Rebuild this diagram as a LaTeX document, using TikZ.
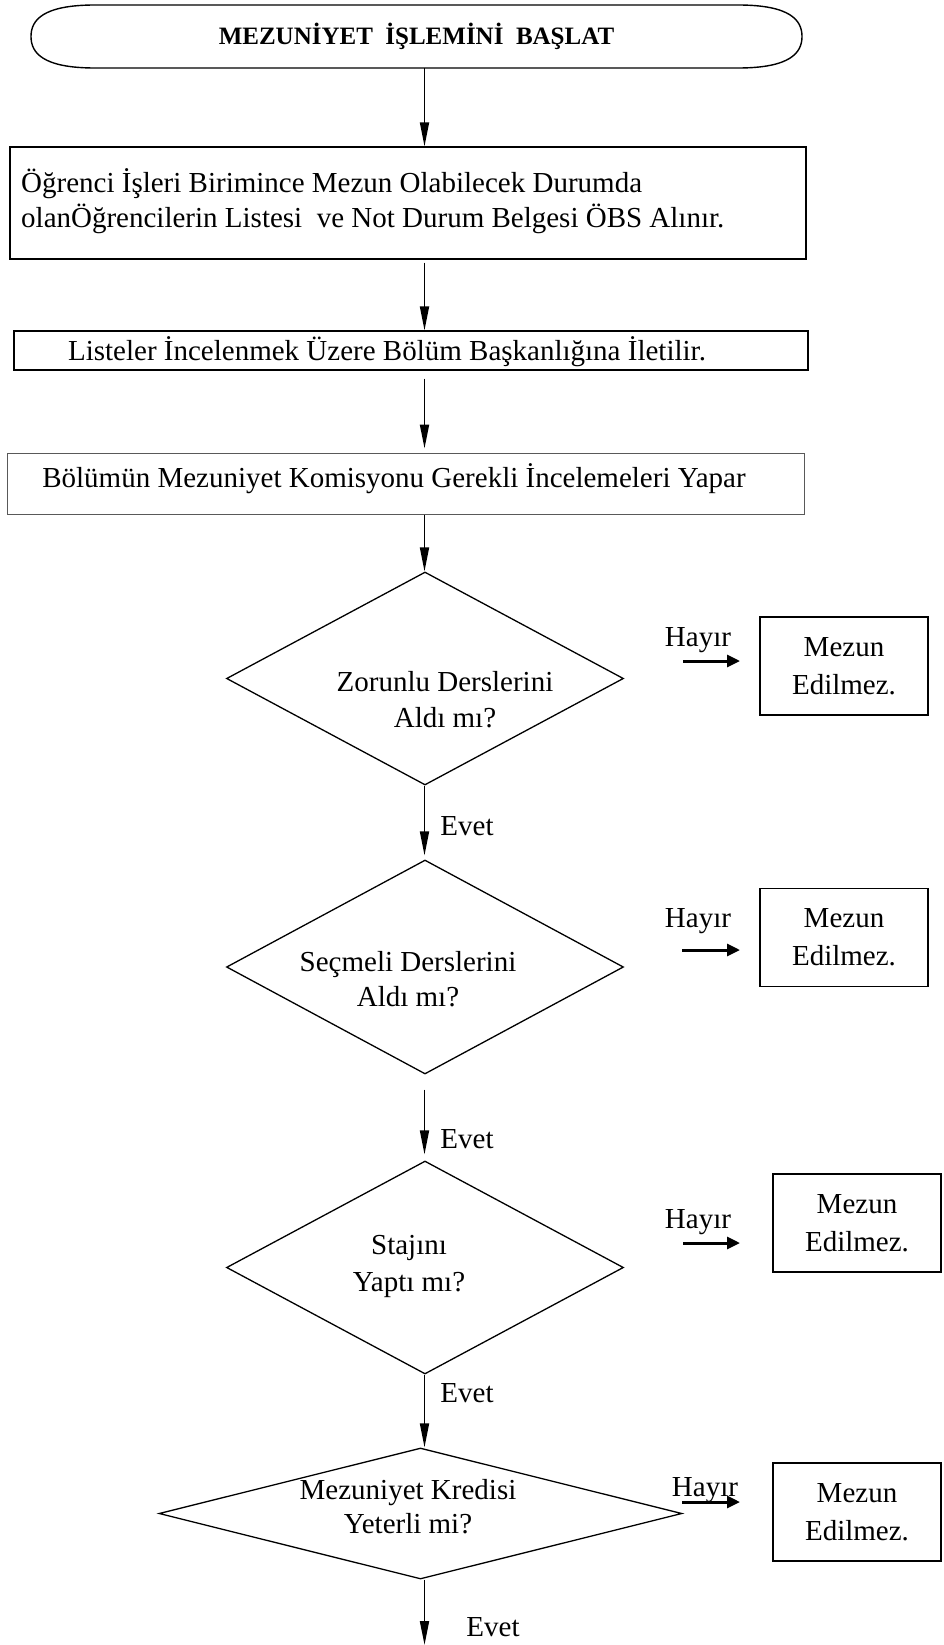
\documentclass[tikz,border=0pt]{standalone}
\usepackage{fontspec}
\setmainfont{Liberation Serif}
\usetikzlibrary{shapes.geometric,arrows.meta}
\begin{document}
\begin{tikzpicture}[x=1pt,y=-1pt,
  box/.style={draw, line width=1.2pt, inner sep=0pt},
  mbox/.style={draw, line width=1.4pt, inner sep=0pt, minimum width=168pt, minimum height=98pt,
    align=center, font=\fontsize{29}{38}\selectfont},
  dia/.style={draw, diamond, line width=1.3pt, inner sep=0pt},
  txt/.style={inner sep=0pt, font=\fontsize{29}{35}\selectfont, align=center},
  arr/.style={line width=1.8pt, -{Triangle[length=24pt,width=9pt]}},
  harr/.style={line width=3pt, -{Triangle[length=13pt,width=12pt]}},
]
\useasboundingbox (0,0) rectangle (944,1645);
% start terminator
\draw[line width=1.4pt] (95,5) -- (738,5) .. controls (790,5) and (802,20) .. (802,36.5)
  .. controls (802,53) and (790,68) .. (738,68) -- (95,68)
  .. controls (43,68) and (31,53) .. (31,36.5) .. controls (31,20) and (43,5) .. (95,5) -- cycle;
\node[inner sep=0pt, minimum width=771pt, minimum height=63pt,
  font=\fontsize{25}{30}\selectfont\bfseries] (start) at (416.5,36.5)
  {MEZUNİYET\ \ İŞLEMİNİ\ \ BAŞLAT};
\coordinate (ax) at (424.5,0);
% boxes
\node[box, minimum width=796pt, minimum height=112pt] (b1) at (408,203) {};
\node[txt, anchor=west, align=left, font=\fontsize{29}{34.6}\selectfont] (b1t) at (21,201)
  {Öğrenci İşleri Birimince Mezun Olabilecek Durumda\\olanÖğrencilerin Listesi\ \ ve Not Durum Belgesi ÖBS Alınır.};
\node[box, minimum width=794pt, minimum height=39pt] (b2) at (411,350.5) {};
\node[txt] (b2t) at (387,352) {Listeler İncelenmek Üzere Bölüm Başkanlığına İletilir.};
\node[box, draw=black!65, line width=1pt, minimum width=797pt, minimum height=61pt] (b3) at (405.5,483.5) {};
\node[txt] (b3t) at (394,479) {Bölümün Mezuniyet Komisyonu Gerekli İncelemeleri Yapar};
% diamonds
\node[dia, minimum width=397pt, minimum height=213pt] (d1) at (425,678.5) {};
\node[txt, font=\fontsize{29}{36}\selectfont] (d1t) at (445,700) {Zorunlu Derslerini\\Aldı mı?};
\node[dia, minimum width=397pt, minimum height=214pt] (d2) at (425,967) {};
\node[txt, font=\fontsize{29}{35}\selectfont] (d2t) at (408,979) {Seçmeli Derslerini\\Aldı mı?};
\node[dia, minimum width=397pt, minimum height=213pt] (d3) at (425,1267.5) {};
\node[txt, font=\fontsize{29}{37}\selectfont] (d3t) at (409,1266) {Stajını\\Yaptı mı?};
\node[dia, minimum width=523pt, minimum height=131pt] (d4) at (420.5,1513.5) {};
\node[txt, font=\fontsize{29}{34}\selectfont] (d4t) at (408,1507) {Mezuniyet Kredisi\\Yeterli mi?};
% Mezun Edilmez boxes
\node[mbox] (m1) at (844,666) {Mezun\\Edilmez.};
\node[mbox] (m2) at (844,937.5) {Mezun\\Edilmez.};
\node[mbox] (m3) at (857,1223) {Mezun\\Edilmez.};
\node[mbox] (m4) at (857,1512) {Mezun\\Edilmez.};
% main arrows
\draw[arr] (start.south -| ax) -- (b1.north -| ax);
\draw[arr, shorten <=3pt] (b1.south -| ax) -- (b2.north -| ax);
\draw[arr, shorten <=8pt, shorten >=4pt] (b2.south -| ax) -- (b3.north -| ax);
\draw[arr] (b3.south -| ax) -- (d1.north -| ax);
\draw[arr, shorten >=4pt] (d1.south -| ax) -- (d2.north -| ax);
\draw[arr, shorten <=15pt, shorten >=6pt] (d2.south -| ax) -- (d3.north -| ax);
\draw[arr] (d3.south -| ax) -- (d4.north -| ax);
\coordinate (endpt) at (424.5,1645);
\draw[arr] (d4.south -| ax) -- (endpt);
% Evet labels
\node[txt] (e1) at (467,826) {Evet};
\node[txt] (e2) at (467,1139) {Evet};
\node[txt] (e3) at (467,1393) {Evet};
\node[txt] (e4) at (493,1627) {Evet};
% Hayir arrows
\coordinate (h1s) at (683,661); \coordinate (h1e) at (740,661);
\coordinate (h2s) at (682,950); \coordinate (h2e) at (740,950);
\coordinate (h3s) at (683,1243); \coordinate (h3e) at (740,1243);
\coordinate (h4s) at (682,1502); \coordinate (h4e) at (740,1502);
\draw[harr] (h1s) -- (h1e);
\draw[harr] (h2s) -- (h2e);
\draw[harr] (h3s) -- (h3e);
\draw[harr] (h4s) -- (h4e);
\node[txt] (hl1) at (698,640) {Hayır};
\node[txt] (hl2) at (698,921) {Hayır};
\node[txt] (hl3) at (698,1222) {Hayır};
\node[txt] (hl4) at (705,1490) {Hayır};
\end{tikzpicture}
\end{document}
